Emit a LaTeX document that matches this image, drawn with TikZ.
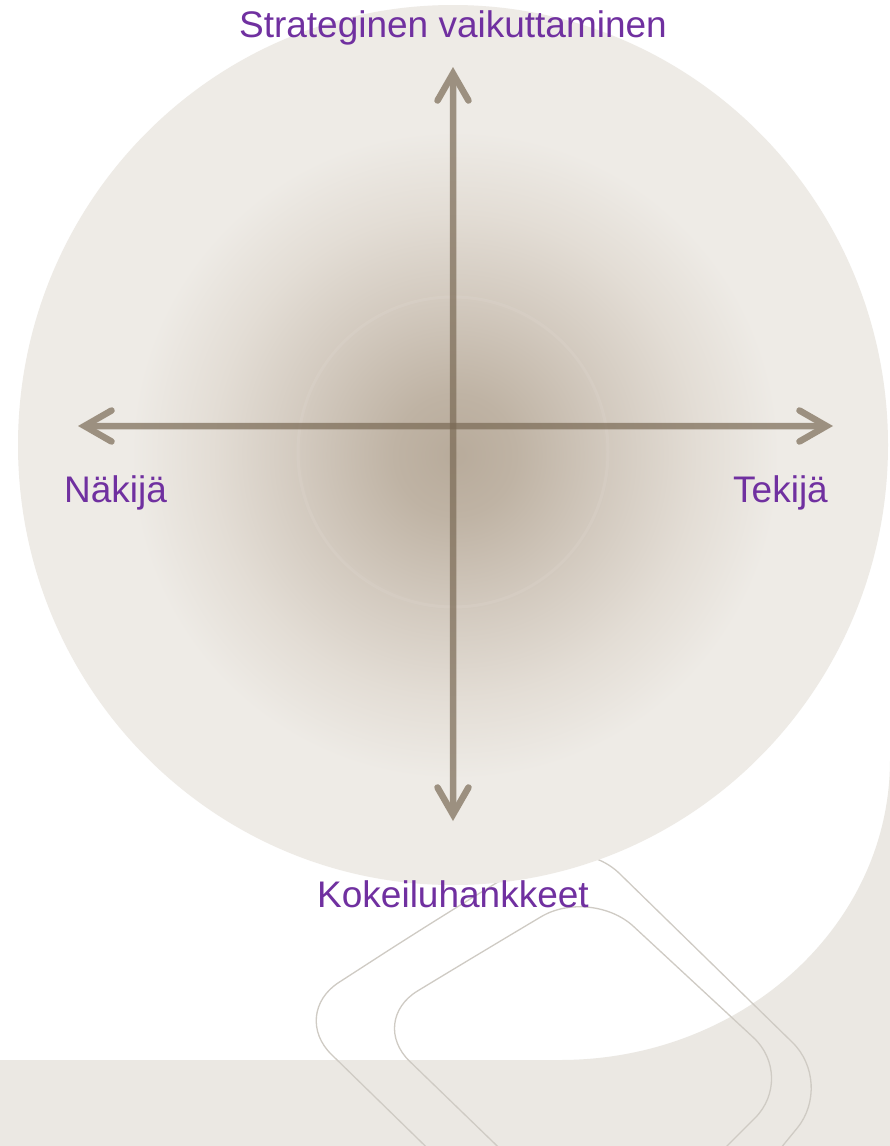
\documentclass[tikz,border=0pt]{standalone}
\usepackage{fontspec}
\newfontfamily\labfont{Liberation Sans}
\usetikzlibrary{arrows.meta}
\definecolor{bgbeige}{HTML}{EBE8E3}
\definecolor{disc}{HTML}{EEEBE6}
\definecolor{axisc}{HTML}{7A6A55}
\definecolor{labc}{HTML}{7030A0}
\definecolor{outl}{HTML}{CFCBC4}
\definecolor{gzero}{HTML}{B8AB9B}
\definecolor{gone}{HTML}{BFB3A4}
\definecolor{gtwo}{HTML}{D2C9BE}
\definecolor{gthree}{HTML}{E3DDD5}
\pgfdeclareradialshading{glow}{\pgfpoint{0bp}{0bp}}{color(0bp)=(gzero); color(4.4bp)=(gone); color(11bp)=(gtwo); color(17.6bp)=(gthree); color(23.5bp)=(disc); color(50bp)=(disc)}
\tikzset{
  axisarrow/.style={line width=6.5pt, draw=axisc,
    {Straight Barb[length=27pt,width=31pt,line cap=round,line join=miter]}-{Straight Barb[length=27pt,width=31pt,line cap=round,line join=miter]}},
  lab/.style={text=labc, font=\labfont\fontsize{37}{44}\selectfont, inner sep=0pt},
  outlineshape/.style={draw=outl, line width=1.3pt, rounded corners=58pt}
}
\begin{document}
\begin{tikzpicture}[x=1pt,y=-1pt]
\path[use as bounding box] (0,0) rectangle (890,1146);
\clip (0,0) rectangle (890,1146);
\fill[white] (0,0) rectangle (890,1146);
% beige background at the bottom and right
\fill[bgbeige] (0,1060) -- (560,1060) .. controls (742,1060) and (890,926) .. (890,760) -- (890,1146) -- (0,1146) -- cycle;
% thin rounded outlines
\draw[outlineshape] (430,923.5) -- (578,833) -- (834,1083) -- (624,1340) -- (290,1014) -- cycle;
\draw[outlineshape] (478.5,954) -- (591,887) -- (796,1077) -- (614,1259) -- (368,1021) -- cycle;
% disc
\fill[disc] (453,445) ellipse [x radius=435, y radius=440];
\shade[shading=glow] (455,455) circle [radius=345];
\draw[white, opacity=0.07, line width=3pt] (453,452) circle [radius=155];
% axes
\coordinate (top) at (453,67);
\coordinate (bot) at (453,821);
\coordinate (lft) at (78,426);
\coordinate (rgt) at (833,426);
\begin{scope}[transparency group, opacity=0.7]
\draw[axisarrow] (bot) -- (top);
\end{scope}
\begin{scope}[transparency group, opacity=0.7]
\draw[axisarrow] (lft) -- (rgt);
\end{scope}
% labels
\node[lab, anchor=base] (nt) at (453,37) {Strateginen vaikuttaminen};
\node[lab, anchor=base west] (nl) at (64,502) {Näkijä};
\node[lab, anchor=base east] (nr) at (828,502) {Tekijä};
\node[lab, anchor=base] (nb) at (453,907) {Kokeiluhankkeet};
\end{tikzpicture}
\end{document}
